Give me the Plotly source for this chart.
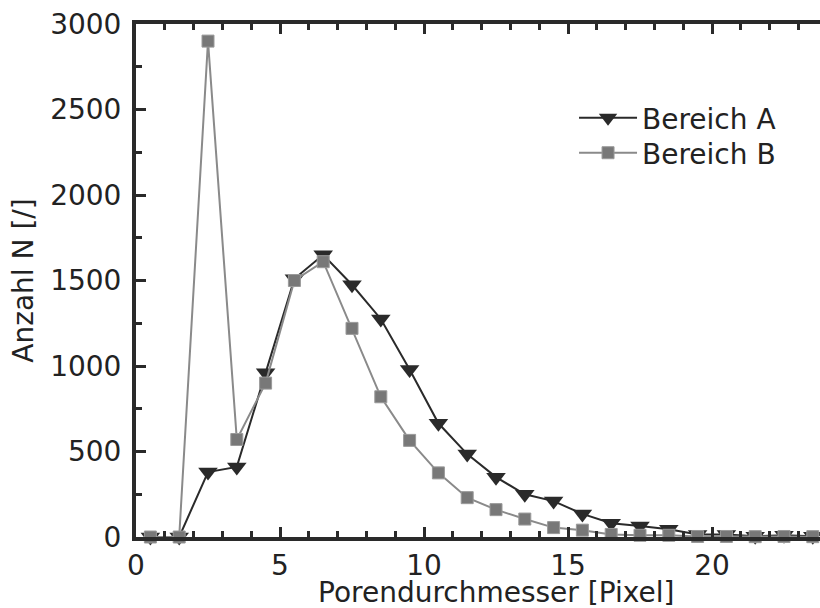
import plotly.graph_objects as go

x_vals = [0.5, 1.5, 2.5, 3.5, 4.5, 5.5, 6.5, 7.5, 8.5, 9.5, 10.5, 11.5,
          12.5, 13.5, 14.5, 15.5, 16.5, 17.5, 18.5, 19.5, 20.5, 21.5, 22.5, 23.5]
bereich_a = [0, 0, 380, 410, 960, 1510, 1650, 1475, 1275, 980, 665, 485,
             350, 250, 210, 135, 80, 65, 45, 15, 15, 5, 10, 5]
bereich_b = [0, 0, 2900, 570, 900, 1500, 1610, 1220, 820, 565, 375, 230,
             160, 105, 55, 40, 15, 10, 10, 3, 3, 2, 3, 2]

x_title = "Porendurchmesser [Pixel]"
y_title = "Anzahl N [/]"
name_a = "Bereich A"
name_b = "Bereich B"

dark = "#2a2a2a"
gray = "#787878"
font = "DejaVu Sans"
txt = "#222222"

fig = go.Figure()
fig.add_trace(go.Scatter(
    x=x_vals, y=bereich_a, name=name_a, mode="lines+markers",
    line=dict(color=dark, width=2),
    marker=dict(symbol="triangle-down", size=17, color=dark),
    cliponaxis=False, legend="legend",
))
fig.add_trace(go.Scatter(
    x=x_vals, y=bereich_b, name=name_b, mode="lines+markers",
    line=dict(color="#8a8a8a", width=2),
    marker=dict(symbol="square", size=12, color=gray,
                line=dict(color="#9a9a9a", width=1)),
    cliponaxis=False, legend="legend2",
))

axis_common = dict(
    showgrid=False, zeroline=False, showline=True, linewidth=4, linecolor=dark,
    ticks="inside", tickwidth=3, tickcolor=dark, ticklen=10,
    tickfont=dict(family=font, size=28, color=txt),
)

fig.update_xaxes(
    range=[0, 23.75], dtick=5, tick0=0, mirror="ticks",
    minor=dict(dtick=1, ticks="inside", ticklen=6, tickwidth=3, tickcolor=dark),
    **axis_common,
)
fig.update_yaxes(
    range=[0, 3000], dtick=500, tick0=0, mirror=False, ticklabelstandoff=5,
    minor=dict(dtick=250, ticks="inside", ticklen=6, tickwidth=3, tickcolor=dark),
    title=dict(text=y_title, font=dict(family=font, size=28, color=txt), standoff=9),
    **axis_common,
)

fig.add_annotation(
    text=x_title, xref="x", x=12.5, yref="paper", y=0, yanchor="top", yshift=-37,
    showarrow=False, font=dict(family=font, size=28, color=txt),
)

leg_common = dict(xanchor="left", yanchor="middle", bgcolor="rgba(0,0,0,0)",
                  itemwidth=58, font=dict(family=font, size=28, color=txt))
fig.update_layout(
    width=820, height=608,
    margin=dict(l=136, r=0, t=24, b=71, pad=0),
    paper_bgcolor="white", plot_bgcolor="white",
    font=dict(family=font, size=28, color=txt),
    legend=dict(x=0.6404, y=0.8168, **leg_common),
    legend2=dict(x=0.6404, y=0.7485, **leg_common),
    showlegend=True,
)

fig.write_html("out.html")
